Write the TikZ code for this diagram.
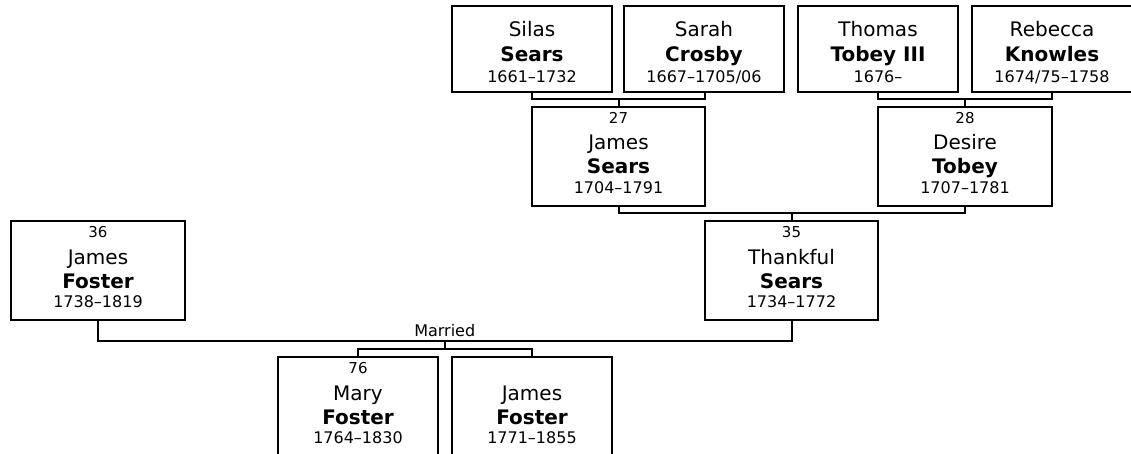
\documentclass[tikz,border=0pt]{standalone}
\usepackage{fontspec}
\setmainfont{DejaVu Sans}
\usetikzlibrary{calc}
\tikzset{
  pbox/.style={draw, line width=2pt, anchor=north west, inner sep=0pt, outer sep=0pt},
  txt/.style={anchor=base, inner sep=0pt, outer sep=0pt},
  numtxt/.style={txt, font=\fontsize{15}{18}\selectfont},
  firsttxt/.style={txt, font=\fontsize{20}{24}\selectfont},
  lasttxt/.style={txt, font=\fontsize{20}{24}\selectfont\bfseries},
  datetxt/.style={txt, font=\fontsize{16}{19}\selectfont},
  marrtxt/.style={txt, font=\fontsize{16}{19}\selectfont},
  conn/.style={line width=2pt}
}
% tall box (height 99) with optional number
\newcommand\personN[8]{%
  \node[pbox, minimum width=#4pt, minimum height=99pt] (#1) at (#2,#3) {};
  \node[numtxt] (#1-n) at ($(#1.north)+(0,16.7)$) {#5};
  \node[firsttxt] (#1-f) at ($(#1.north)+(0,43)$) {#6};
  \node[lasttxt] (#1-l) at ($(#1.north)+(0,67)$) {#7};
  \node[datetxt] (#1-d) at ($(#1.north)+(0,86.7)$) {#8};
}
% short box (height 86) without number
\newcommand\personU[7]{%
  \node[pbox, minimum width=#4pt, minimum height=86pt] (#1) at (#2,#3) {};
  \node[firsttxt] (#1-f) at ($(#1.north)+(0,31)$) {#5};
  \node[lasttxt] (#1-l) at ($(#1.north)+(0,56)$) {#6};
  \node[datetxt] (#1-d) at ($(#1.north)+(0,77)$) {#7};
}
\begin{document}
\begin{tikzpicture}[x=1pt,y=-1pt]
\useasboundingbox (0,0) rectangle (1131,454);
\personU{silas}{452}{6}{160}{Silas}{Sears}{1661–1732}
\personU{sarah}{624}{6}{160}{Sarah}{Crosby}{1667–1705/06}
\personU{thomas}{798}{6}{160}{Thomas}{Tobey III}{1676–}
\personU{rebecca}{972}{6}{160}{Rebecca}{Knowles}{1674/75–1758}
\personN{jsears}{532}{107}{173}{27}{James}{Sears}{1704–1791}
\personN{desire}{878}{107}{174}{28}{Desire}{Tobey}{1707–1781}
\personN{thankful}{705}{221}{173}{35}{Thankful}{Sears}{1734–1772}
\personN{jfoster}{11}{221}{174}{36}{James}{Foster}{1738–1819}
\personN{mary}{278}{357}{160}{76}{Mary}{Foster}{1764–1830}
\personN{jfosterb}{452}{357}{160}{}{James}{Foster}{1771–1855}
% parents of James Sears
\draw[conn] (silas.south -| jsears.west) -- ++(0,7) coordinate (ss) -| (sarah.south -| jsears.east);
\draw[conn] (ss -| jsears.north) -- (jsears.north);
% parents of Desire Tobey
\draw[conn] (thomas.south -| desire.west) -- ++(0,7) coordinate (tr) -| (rebecca.south -| desire.east);
\draw[conn] (tr -| desire.north) -- (desire.north);
% parents of Thankful
\draw[conn] (jsears.south) -- ++(0,7) coordinate (st) -| (desire.south);
\draw[conn] (st -| thankful.north) -- (thankful.north);
% marriage
\draw[conn] (jfoster.south) -- ++(0,21) coordinate (m) -| (thankful.south);
\coordinate (mm) at ($(m)!0.5!(m -| thankful.south)$);
\node[marrtxt] (married) at ($(mm)+(0,-4.5)$) {Married};
\draw[conn] (mm) -- ++(0,8) coordinate (cc);
\draw[conn] (mary.north) -- (mary.north |- cc) -- (jfosterb.north |- cc) -- (jfosterb.north);
\end{tikzpicture}
\end{document}
